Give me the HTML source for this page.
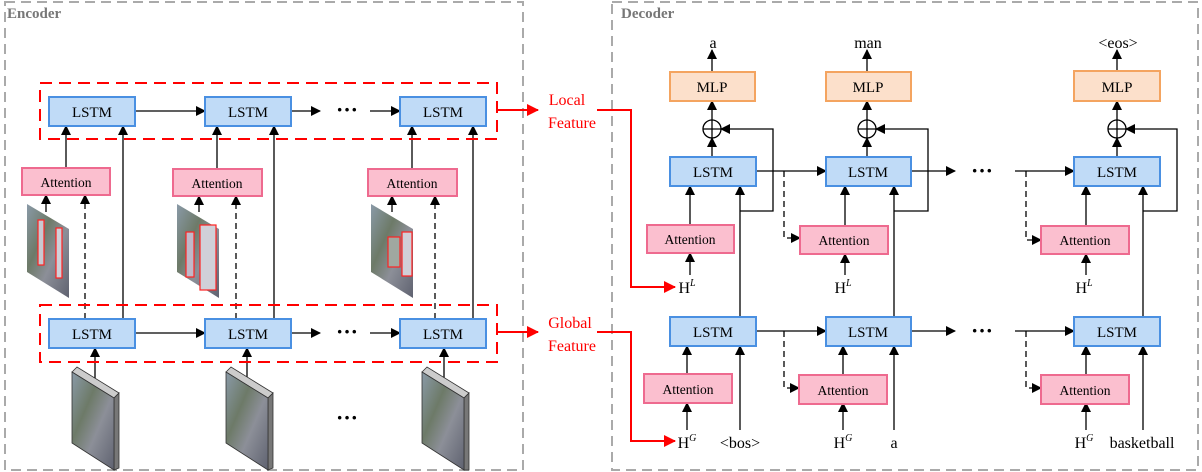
<!DOCTYPE html>
<html><head><meta charset="utf-8"><style>body{margin:0;background:#fff}svg{display:block}text{font-family:"Liberation Serif",serif}</style></head><body>
<svg width="1202" height="472" viewBox="0 0 1202 472" xmlns="http://www.w3.org/2000/svg">
<defs>
<marker id="a" markerWidth="10" markerHeight="10" refX="9" refY="5" orient="auto" markerUnits="userSpaceOnUse"><path d="M0,0 L10,5 L0,10z" fill="#000"/></marker>
<marker id="r" markerWidth="12" markerHeight="12" refX="11" refY="6" orient="auto" markerUnits="userSpaceOnUse"><path d="M0,0 L12,6 L0,12z" fill="#f00"/></marker>
<linearGradient id="img" x1="0" y1="0" x2="1" y2="1"><stop offset="0" stop-color="#8a9aa8"/><stop offset="0.35" stop-color="#6d7a68"/><stop offset="0.6" stop-color="#8c8f98"/><stop offset="1" stop-color="#5f6270"/></linearGradient>
</defs>
<rect x="5" y="2" width="518" height="468" fill="none" stroke="#aaa" stroke-width="2" stroke-dasharray="10,6"/>
<rect x="612" y="2" width="586" height="468" fill="none" stroke="#aaa" stroke-width="2" stroke-dasharray="10,6"/>
<text x="7" y="18" font-size="15" font-weight="bold" fill="#777">Encoder</text>
<text x="621" y="18" font-size="15" font-weight="bold" fill="#777">Decoder</text>

<g stroke="#000" stroke-width="1.3" fill="none">
<line x1="135" y1="111" x2="205" y2="111" marker-end="url(#a)"/>
<line x1="291" y1="111" x2="320" y2="111" marker-end="url(#a)"/>
<line x1="370" y1="111" x2="400" y2="111" marker-end="url(#a)"/>
<line x1="135" y1="333" x2="205" y2="333" marker-end="url(#a)"/>
<line x1="291" y1="333" x2="320" y2="333" marker-end="url(#a)"/>
<line x1="370" y1="333" x2="400" y2="333" marker-end="url(#a)"/>
<line x1="66" y1="168" x2="66" y2="126" marker-end="url(#a)"/>
<line x1="123" y1="319" x2="123" y2="126" marker-end="url(#a)"/>
<line x1="46" y1="212" x2="46" y2="195" marker-end="url(#a)"/>
<line x1="85" y1="319" x2="85" y2="195" stroke-dasharray="6,4" marker-end="url(#a)"/>
<line x1="95" y1="382" x2="95" y2="348" marker-end="url(#a)"/>
<line x1="217" y1="169" x2="217" y2="126" marker-end="url(#a)"/>
<line x1="274" y1="319" x2="274" y2="126" marker-end="url(#a)"/>
<line x1="199" y1="212" x2="199" y2="196" marker-end="url(#a)"/>
<line x1="236" y1="319" x2="236" y2="196" stroke-dasharray="6,4" marker-end="url(#a)"/>
<line x1="247" y1="382" x2="247" y2="348" marker-end="url(#a)"/>
<line x1="412" y1="169" x2="412" y2="126" marker-end="url(#a)"/>
<line x1="473" y1="319" x2="473" y2="126" marker-end="url(#a)"/>
<line x1="392" y1="212" x2="392" y2="196" marker-end="url(#a)"/>
<line x1="435" y1="319" x2="435" y2="196" stroke-dasharray="6,4" marker-end="url(#a)"/>
<line x1="444" y1="382" x2="444" y2="348" marker-end="url(#a)"/>

<line x1="712" y1="72" x2="712" y2="50" marker-end="url(#a)"/>
<line x1="712" y1="120" x2="712" y2="101" marker-end="url(#a)"/>
<line x1="712" y1="157" x2="712" y2="138" marker-end="url(#a)"/>
<polyline points="740,211 773,211 773,129 721,129" marker-end="url(#a)"/>
<line x1="740" y1="317" x2="740" y2="186" marker-end="url(#a)"/>
<line x1="690" y1="225" x2="690" y2="186" marker-end="url(#a)"/>
<line x1="690" y1="275" x2="690" y2="253" marker-end="url(#a)"/>
<line x1="687" y1="374" x2="687" y2="346" marker-end="url(#a)"/>
<line x1="687" y1="430" x2="687" y2="403" marker-end="url(#a)"/>
<line x1="740" y1="430" x2="740" y2="346" marker-end="url(#a)"/>
<line x1="756" y1="171" x2="826" y2="171" marker-end="url(#a)"/>
<polyline points="784,171 784,238 800,238" stroke-dasharray="6,4" marker-end="url(#a)"/>
<line x1="756" y1="331" x2="826" y2="331" marker-end="url(#a)"/>
<polyline points="784,331 784,388 799,388" stroke-dasharray="6,4" marker-end="url(#a)"/>
<line x1="867" y1="72" x2="867" y2="50" marker-end="url(#a)"/>
<line x1="867" y1="120" x2="867" y2="101" marker-end="url(#a)"/>
<line x1="867" y1="157" x2="867" y2="138" marker-end="url(#a)"/>
<polyline points="894,211 928,211 928,129 876,129" marker-end="url(#a)"/>
<line x1="894" y1="317" x2="894" y2="186" marker-end="url(#a)"/>
<line x1="845" y1="226" x2="845" y2="186" marker-end="url(#a)"/>
<line x1="845" y1="275" x2="845" y2="254" marker-end="url(#a)"/>
<line x1="843" y1="374" x2="843" y2="346" marker-end="url(#a)"/>
<line x1="843" y1="430" x2="843" y2="403" marker-end="url(#a)"/>
<line x1="894" y1="430" x2="894" y2="346" marker-end="url(#a)"/>
<line x1="911" y1="171" x2="955" y2="171" marker-end="url(#a)"/>
<line x1="911" y1="331" x2="955" y2="331" marker-end="url(#a)"/>
<line x1="1015" y1="171" x2="1074" y2="171" marker-end="url(#a)"/>
<polyline points="1026,171 1026,240 1041,240" stroke-dasharray="6,4" marker-end="url(#a)"/>
<line x1="1015" y1="331" x2="1074" y2="331" marker-end="url(#a)"/>
<polyline points="1026,331 1026,388 1041,388" stroke-dasharray="6,4" marker-end="url(#a)"/>
<line x1="1117" y1="72" x2="1117" y2="50" marker-end="url(#a)"/>
<line x1="1117" y1="120" x2="1117" y2="101" marker-end="url(#a)"/>
<line x1="1117" y1="157" x2="1117" y2="138" marker-end="url(#a)"/>
<polyline points="1143,211 1177,211 1177,129 1126,129" marker-end="url(#a)"/>
<line x1="1143" y1="317" x2="1143" y2="186" marker-end="url(#a)"/>
<line x1="1086" y1="226" x2="1086" y2="186" marker-end="url(#a)"/>
<line x1="1086" y1="275" x2="1086" y2="254" marker-end="url(#a)"/>
<line x1="1086" y1="374" x2="1086" y2="346" marker-end="url(#a)"/>
<line x1="1086" y1="430" x2="1086" y2="403" marker-end="url(#a)"/>
<line x1="1143" y1="430" x2="1143" y2="346" marker-end="url(#a)"/>
<circle cx="712" cy="129" r="9"/><line x1="703" y1="129" x2="721" y2="129"/><line x1="712" y1="120" x2="712" y2="138"/>
<circle cx="867" cy="129" r="9"/><line x1="858" y1="129" x2="876" y2="129"/><line x1="867" y1="120" x2="867" y2="138"/>
<circle cx="1117" cy="129" r="9"/><line x1="1108" y1="129" x2="1126" y2="129"/><line x1="1117" y1="120" x2="1117" y2="138"/>
</g>

<g fill="none" stroke="#f00" stroke-width="2" stroke-dasharray="12,7">
<rect x="40" y="83" width="457" height="56"/>
<rect x="40" y="305" width="457" height="57"/>
</g>
<g stroke="#f00" stroke-width="2" fill="none">
<line x1="497" y1="110" x2="538" y2="110" marker-end="url(#r)"/>
<line x1="497" y1="332" x2="538" y2="332" marker-end="url(#r)"/>
<polyline points="597,110 631,110 631,287 675,287" marker-end="url(#r)"/>
<polyline points="597,332 631,332 631,441 675,441" marker-end="url(#r)"/>
</g>
<g fill="#f00" font-size="16" text-anchor="middle">
<text x="567" y="105">Local</text><text x="572" y="128">Feature</text>
<text x="570" y="328">Global</text><text x="572" y="351">Feature</text>
</g>

<g fill="#c0dbf7" stroke="#4a90e2" stroke-width="2">
<rect x="49" y="97" width="86" height="29"/><rect x="205" y="97" width="86" height="29"/><rect x="400" y="97" width="86" height="29"/>
<rect x="49" y="319" width="86" height="29"/><rect x="205" y="319" width="86" height="29"/><rect x="400" y="319" width="86" height="29"/>
<rect x="670" y="157" width="86" height="29"/><rect x="826" y="157" width="85" height="29"/><rect x="1074" y="157" width="86" height="29"/>
<rect x="670" y="317" width="86" height="29"/><rect x="826" y="317" width="85" height="29"/><rect x="1074" y="317" width="86" height="29"/>
</g>
<g fill="#fbbfcf" stroke="#ee6a8f" stroke-width="2">
<rect x="22" y="168" width="88" height="27"/><rect x="173" y="169" width="89" height="27"/><rect x="368" y="169" width="89" height="27"/>
<rect x="647" y="225" width="87" height="28"/><rect x="800" y="226" width="88" height="28"/><rect x="1041" y="226" width="88" height="28"/>
<rect x="644" y="374" width="88" height="29"/><rect x="799" y="375" width="88" height="29"/><rect x="1041" y="375" width="88" height="29"/>
</g>
<g fill="#fce0cb" stroke="#f4a460" stroke-width="2">
<rect x="670" y="72" width="85" height="29"/><rect x="826" y="72" width="85" height="29"/><rect x="1074" y="71" width="86" height="30"/>
</g>
<g font-size="15" text-anchor="middle" fill="#000">
<text x="92" y="117">LSTM</text><text x="248" y="117">LSTM</text><text x="443" y="117">LSTM</text>
<text x="92" y="339">LSTM</text><text x="248" y="339">LSTM</text><text x="443" y="339">LSTM</text>
<text x="713" y="177">LSTM</text><text x="868" y="177">LSTM</text><text x="1117" y="177">LSTM</text>
<text x="713" y="337">LSTM</text><text x="868" y="337">LSTM</text><text x="1117" y="337">LSTM</text>
<text x="712" y="92">MLP</text><text x="868" y="92">MLP</text><text x="1117" y="92">MLP</text>
</g>
<g font-size="13.5" text-anchor="middle" fill="#000">
<text x="66" y="187">Attention</text><text x="217" y="188">Attention</text><text x="412" y="188">Attention</text>
<text x="690" y="244">Attention</text><text x="844" y="245">Attention</text><text x="1085" y="245">Attention</text>
<text x="688" y="394">Attention</text><text x="843" y="395">Attention</text><text x="1085" y="395">Attention</text>
</g>
<g font-size="16" fill="#000" text-anchor="middle">
<text x="713" y="48">a</text><text x="868" y="48">man</text><text x="1118" y="48">&lt;eos&gt;</text>
<text x="740" y="448">&lt;bos&gt;</text><text x="894" y="448">a</text><text x="1142" y="448">basketball</text>
<text x="687" y="293">H<tspan font-size="10" font-style="italic" dy="-7">L</tspan></text>
<text x="843" y="293">H<tspan font-size="10" font-style="italic" dy="-7">L</tspan></text>
<text x="1084" y="293">H<tspan font-size="10" font-style="italic" dy="-7">L</tspan></text>
<text x="687" y="448">H<tspan font-size="10" font-style="italic" dy="-7">G</tspan></text>
<text x="843" y="448">H<tspan font-size="10" font-style="italic" dy="-7">G</tspan></text>
<text x="1084" y="448">H<tspan font-size="10" font-style="italic" dy="-7">G</tspan></text>
</g>
<g font-size="22" font-weight="bold" text-anchor="middle" fill="#000">
<text x="347" y="117">···</text><text x="347" y="339">···</text><text x="347" y="425">···</text>
<text x="982" y="178">···</text><text x="982" y="338">···</text>
</g>

<g>
<polygon points="27,204 69,229 69,298 27,272" fill="url(#img)"/>
<rect x="38" y="220" width="6" height="45" fill="#c8c8d0" stroke="#f22" stroke-width="1.2"/>
<rect x="56" y="228" width="6" height="50" fill="#d0d0d8" stroke="#f22" stroke-width="1.2"/>
<polygon points="177,204 219,229 219,298 177,272" fill="url(#img)"/>
<rect x="186" y="232" width="8" height="45" fill="#c0b8c8" stroke="#f22" stroke-width="1.2"/>
<rect x="200" y="225" width="16" height="65" fill="#d0d0d8" stroke="#f22" stroke-width="1.2"/>
<polygon points="371,204 413,229 413,298 371,272" fill="url(#img)"/>
<rect x="388" y="237" width="12" height="30" fill="#a0a8a0" stroke="#f22" stroke-width="1.2"/>
<rect x="402" y="232" width="10" height="44" fill="#d0d0d8" stroke="#f22" stroke-width="1.2"/>
</g>
<g stroke="#333" stroke-width="0.8">
<polygon points="72,372 77,367 119,393 114,398" fill="#ccc"/>
<polygon points="114,398 119,393 119,468 114,470" fill="#777"/>
<polygon points="72,372 114,398 114,470 72,443" fill="url(#img)"/>
<polygon points="226,372 231,367 273,393 268,398" fill="#ccc"/>
<polygon points="268,398 273,393 273,468 268,470" fill="#777"/>
<polygon points="226,372 268,398 268,470 226,443" fill="url(#img)"/>
<polygon points="422,372 427,367 469,393 464,398" fill="#ccc"/>
<polygon points="464,398 469,393 469,470 464,470" fill="#777"/>
<polygon points="422,372 464,398 464,470 422,443" fill="url(#img)"/>
</g>
</svg>
</body></html>
